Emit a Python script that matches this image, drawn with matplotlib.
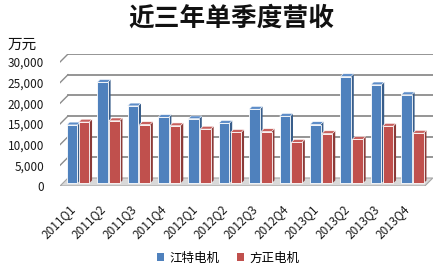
import matplotlib
matplotlib.use("Agg")
import matplotlib.pyplot as plt
from matplotlib.patches import Polygon, Patch
from matplotlib.transforms import offset_copy

plt.rcParams['font.family'] = ['Noto Sans CJK SC', 'DejaVu Sans']

# data (万元)
quarters = ["2011Q1", "2011Q2", "2011Q3", "2011Q4",
            "2012Q1", "2012Q2", "2012Q3", "2012Q4",
            "2013Q1", "2013Q2", "2013Q3", "2013Q4"]
jiangte = [14100, 24400, 18700, 15900, 15600, 14500, 17900, 16200, 14200, 25800, 23800, 21400]
fangzheng = [14800, 15100, 14200, 13900, 13100, 12300, 12500, 9900, 12000, 10600, 13800, 12100]
yticks = [0, 5000, 10000, 15000, 20000, 25000, 30000]

W, H = 446, 271
PX_X = 30.4                  # pixels per category
PX_Y = 124 / 30000           # pixels per value unit
DX = 8 / PX_X                # depth offset of back wall, x data units
DY = 8 / PX_Y                # depth offset of back wall, y data units

BLUE = ("#4F81BD", "#385D8A", "#5E8DC8")
RED = ("#C0504D", "#8B3A38", "#C8605D")


def bar3d(ax, x0, x1, v, cols, f0=0.35, fd=0.35):
    """front face + side + top, front face pushed back by f0 of the depth"""
    ox, oy = f0 * DX, f0 * DY
    bx, by = fd * DX, fd * DY
    a, b = x0 + ox, x1 + ox
    base, top = oy, oy + v
    front, side, lid = cols
    ax.add_patch(Polygon([(b, base), (b, top), (b + bx, top + by), (b + bx, base + by)],
                         closed=True, fc=side, ec="none", zorder=3))
    ax.add_patch(Polygon([(a, top), (b, top), (b + bx, top + by), (a + bx, top + by)],
                         closed=True, fc=lid, ec="white", lw=0.4, zorder=3))
    ax.add_patch(Polygon([(a, base), (b, base), (b, top), (a, top)],
                         closed=True, fc=front, ec="white", lw=0.6, zorder=4))


fig = plt.figure(figsize=(W / 100, H / 100), dpi=100)
ax = fig.add_axes([60 / W, (H - 186) / H, (12 + DX) * PX_X / W, (30000 + DY) * PX_Y / H])
ax.set_xlim(-0.5, 11.5 + DX)
ax.set_ylim(0, 30000 + DY)
for s in ax.spines.values():
    s.set_visible(False)

# back wall gridlines and left-wall diagonals
xl, xr = -0.5, 11.5
for v in yticks[1:]:
    ax.plot([xl + DX, xr + DX], [v + DY, v + DY], color="#8C8C8C", lw=1.3, zorder=1)
    ax.plot([xl, xl + DX], [v, v + DY], color="#8C8C8C", lw=1.0, zorder=1)

# floor
ax.add_patch(Polygon([(xl, 0), (xr, 0), (xr + DX, DY), (xl + DX, DY)],
                     closed=True, fc="#D9D9D9", ec="#A6A6A6", lw=0.8, zorder=2))

w = 0.35
for i in range(len(quarters)):
    bar3d(ax, i - w - 0.02, i - 0.02, jiangte[i], BLUE)
    bar3d(ax, i + 0.02, i + w + 0.02, fangzheng[i], RED)

ax.set_yticks(yticks)
ax.set_yticklabels([f"{t:,}" for t in yticks], fontsize=8.5, color="#1A1A1A")
ax.tick_params(axis="y", length=0, pad=11.5)
ax.set_xticks([])

lab_tr = offset_copy(ax.transData, fig=fig, y=-16, units="dots")
for i, q in enumerate(quarters):
    ax.text(i + 0.09, 0, q, transform=lab_tr, rotation=45, ha="right", va="top",
            fontsize=8.5, color="#1A1A1A")

fig.text(231 / W, 1 - 18 / H, "近三年单季度营收", ha="center", va="center",
         fontsize=18.5, fontweight="bold", color="#111111")
fig.text(8 / W, 1 - 45 / H, "万元", ha="left", va="center", fontsize=10.5, color="#111111")

handles = [Patch(fc=BLUE[0], ec="none"), Patch(fc=RED[0], ec="none")]
fig.legend(handles, ["江特电机", "方正电机"], loc="center", ncol=2, frameon=False,
           bbox_to_anchor=(228 / W, 1 - 258 / H), fontsize=9, handlelength=0.6,
           handleheight=0.6, handletextpad=0.4, columnspacing=1.4)

fig.savefig("out.png", dpi=100)
